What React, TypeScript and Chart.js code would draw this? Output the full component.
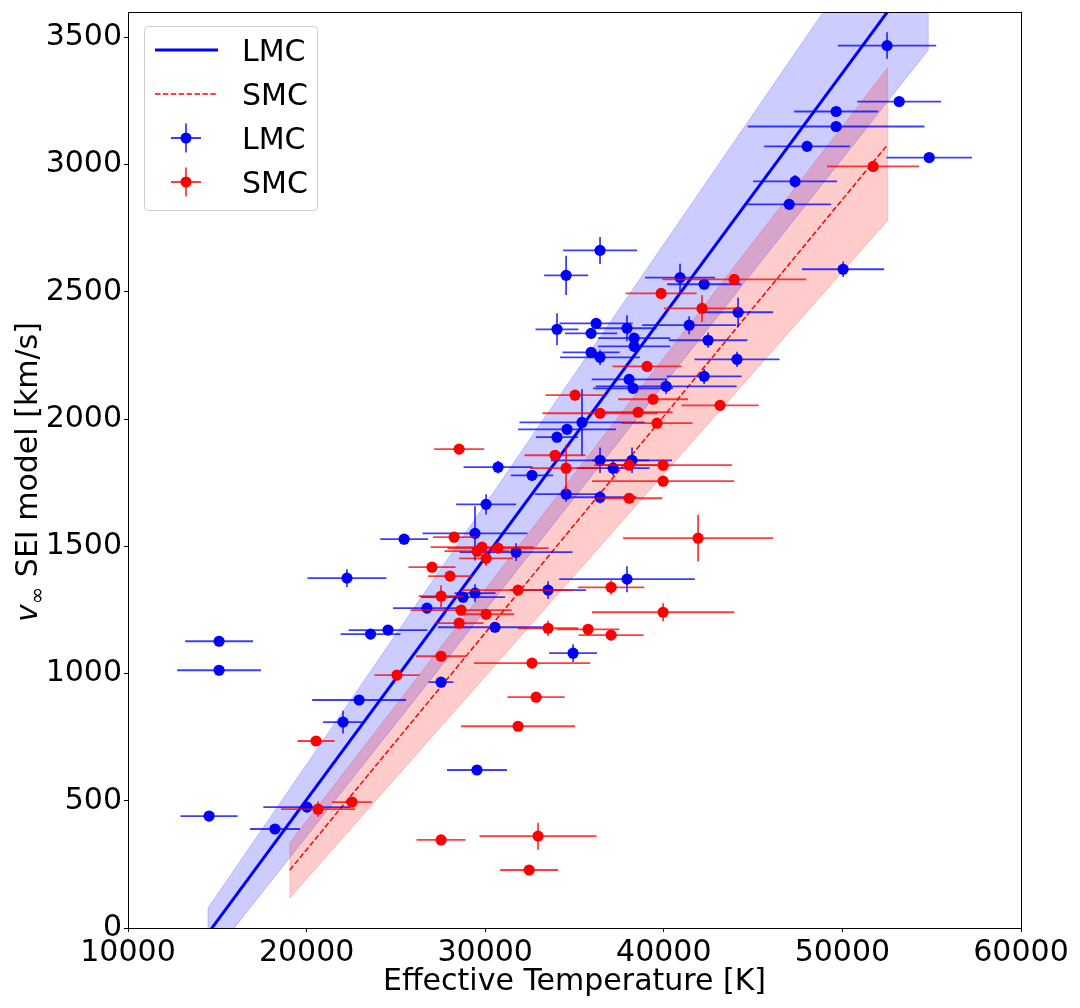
import React, { useEffect, useRef } from "react";
import { Chart, registerables } from "chart.js";

Chart.register(...registerables);

// LMC stars: effective temperature [K], v_inf [km/s] and their errors
const lmcTeff = [
  52500, 53180, 49650, 49650, 48020, 54860, 47350, 47020, 50040, 36430,
  34530, 40910, 42260, 44160, 34020, 36210, 35930, 37940, 38340, 38340,
  41420, 42480, 36430, 35930, 44100, 42260, 38060, 40130, 38280, 35420,
  34580, 34020, 30720, 32620, 36430, 37160, 38220, 34530, 36430, 30050,
  29430, 31730, 25460, 22260, 29430, 28760, 26740, 33520, 24560, 23580,
  30550, 34920, 27530, 22940, 22040, 37940, 29540, 15100, 15100, 14540,
  18230, 20020,
];
const lmcVinf = [
  3468, 3248, 3209, 3150, 3072, 3028, 2934, 2844, 2589, 2663,
  2565, 2556, 2530, 2420, 2353, 2376, 2337, 2357, 2318, 2286,
  2369, 2310, 2243, 2262, 2235, 2168, 2156, 2129, 2121, 1987,
  1960, 1929, 1811, 1779, 1838, 1807, 1838, 1705, 1693, 1665,
  1551, 1477, 1528, 1375, 1316, 1300, 1257, 1328, 1171, 1155,
  1182, 1080, 966, 896, 809, 1371, 621, 1127, 1013, 440,
  389, 475,
];
const lmcTeffErr = [
  2750, 2350, 2350, 4950, 2400, 2400, 2350, 2350, 2300, 2070,
  1230, 1960, 2070, 1960, 1200, 2050, 1460, 1650, 2020, 2020,
  2630, 2200, 2240, 1600, 2380, 2100, 2100, 3950, 2240, 3500,
  2740, 1180, 1930, 1180, 2750, 2040, 2240, 1760, 2040, 1680,
  2940, 3160, 1340, 2210, 1150, 2350, 1900, 2130, 2210, 1680,
  3200, 1340, 700, 2630, 1120, 3800, 1680, 1900, 2350, 1600,
  1400, 2440,
];
const lmcVinfErr = [
  52, 20, 20, 20, 20, 20, 25, 20, 30, 53,
  77, 55, 20, 57, 63, 20, 20, 51, 20, 20,
  35, 30, 30, 20, 30, 30, 20, 30, 20, 130,
  20, 20, 25, 20, 50, 30, 50, 30, 25, 40,
  107, 35, 20, 35, 35, 20, 20, 35, 20, 20,
  20, 35, 20, 20, 45, 51, 20, 20, 20, 20,
  20, 20,
];

// SMC stars
const smcTeff = [
  51720, 43940, 39850, 42140, 39060, 35030, 39400, 43150, 36430, 38560,
  39620, 28540, 33910, 34530, 38060, 39960, 39960, 38060, 41920, 28260,
  29820, 29540, 30720, 30050, 27020, 28030, 31840, 27530, 28650, 30050,
  28540, 33520, 35760, 37050, 37050, 39960, 27530, 32620, 25060, 32850,
  31840, 20530, 20640, 22540, 27530, 32960, 32460,
];
const smcVinf = [
  2993, 2549, 2494, 2435, 2207, 2094, 2078, 2054, 2023, 2027,
  1984, 1882, 1858, 1807, 1819, 1819, 1756, 1689, 1532, 1536,
  1497, 1481, 1493, 1453, 1418, 1383, 1328, 1304, 1249, 1233,
  1198, 1178, 1174, 1151, 1339, 1241, 1068, 1041, 994, 907,
  793, 735, 467, 495, 346, 361, 228,
];
const smcTeffErr = [
  2580, 4030, 1990, 2130, 1930, 1650, 1960, 2160, 3220, 1930,
  1990, 1400, 1710, 2020, 1570, 3860, 3980, 1850, 4200, 1180,
  2880, 1820, 2830, 1510, 1320, 1230, 3130, 1260, 2830, 1570,
  1370, 1680, 1760, 1820, 1850, 3980, 1400, 3250, 1260, 1600,
  3190, 1040, 2070, 1120, 1370, 3280, 1620,
];
const smcVinfErr = [
  20, 20, 20, 53, 20, 20, 20, 20, 20, 20,
  20, 20, 20, 92, 20, 20, 20, 20, 92, 20,
  20, 20, 20, 30, 20, 20, 20, 43, 20, 20,
  20, 30, 20, 20, 28, 35, 20, 20, 20, 20,
  20, 20, 30, 20, 20, 53, 20,
];

// fitted relations and their uncertainty bands (end points)
const lmcFitTeff = [14480, 54810];
const lmcFitVinf = [-21, 3818];
const lmcFitUpper = [79, 4201];
const lmcFitLower = [-130, 3451];

const smcFitTeff = [19060, 52535];
const smcFitVinf = [228, 3079];
const smcFitUpper = [335, 3381];
const smcFitLower = [118, 2781];

const xTicks = [10000, 20000, 30000, 40000, 50000, 60000];
const yTicks = [0, 500, 1000, 1500, 2000, 2500, 3000, 3500];

const FONT = "DejaVu Sans";

const pts = (xs: number[], ys: number[]) => xs.map((x, i) => ({ x, y: ys[i] }));

const errorBars = {
  id: "errorBars",
  beforeDatasetDraw(chart: any, args: any) {
    const ds = chart.data.datasets[args.index];
    if (!ds.errX) return;
    const { ctx, chartArea } = chart;
    const xs = chart.scales.x;
    const ys = chart.scales.y;
    ctx.save();
    ctx.beginPath();
    ctx.rect(chartArea.left, chartArea.top, chartArea.right - chartArea.left, chartArea.bottom - chartArea.top);
    ctx.clip();
    ctx.strokeStyle = ds.errColor;
    ctx.lineWidth = 1.8;
    ds.data.forEach((p: any, i: number) => {
      const px = xs.getPixelForValue(p.x);
      const py = ys.getPixelForValue(p.y);
      ctx.beginPath();
      ctx.moveTo(xs.getPixelForValue(p.x - ds.errX[i]), py);
      ctx.lineTo(xs.getPixelForValue(p.x + ds.errX[i]), py);
      ctx.moveTo(px, ys.getPixelForValue(p.y - ds.errY[i]));
      ctx.lineTo(px, ys.getPixelForValue(p.y + ds.errY[i]));
      ctx.stroke();
    });
    ctx.restore();
  },
};

const decorations = {
  id: "decorations",
  afterDraw(chart: any) {
    const { ctx, chartArea } = chart;
    ctx.save();
    // frame
    ctx.strokeStyle = "#000";
    ctx.lineWidth = 1;
    ctx.strokeRect(chartArea.left + 0.5, chartArea.top + 0.5, chartArea.right - chartArea.left, chartArea.bottom - chartArea.top);

    // x title
    ctx.fillStyle = "#000";
    ctx.font = `30px "${FONT}"`;
    ctx.textAlign = "center";
    ctx.textBaseline = "alphabetic";
    ctx.fillText("Effective Temperature [K]", (chartArea.left + chartArea.right) / 2, 990);

    // y title: v_inf SEI model [km/s]
    ctx.save();
    ctx.translate(37, (chartArea.top + chartArea.bottom) / 2 + 2);
    ctx.rotate(-Math.PI / 2);
    ctx.textAlign = "left";
    const rest = " SEI model [km/s]";
    ctx.font = `italic 30px "${FONT}"`;
    const wv = ctx.measureText("v").width;
    ctx.font = `21px "${FONT}"`;
    const wi = ctx.measureText("∞").width;
    ctx.font = `30px "${FONT}"`;
    const wr = ctx.measureText(rest).width;
    let x = -(wv + wi + wr) / 2;
    ctx.font = `italic 30px "${FONT}"`;
    ctx.fillText("v", x, 0);
    x += wv;
    ctx.font = `21px "${FONT}"`;
    ctx.fillText("∞", x, 7);
    x += wi;
    ctx.font = `30px "${FONT}"`;
    ctx.fillText(rest, x, 0);
    ctx.restore();

    // legend
    ctx.beginPath();
    ctx.roundRect(144.5, 26.5, 173, 184, 4);
    ctx.fillStyle = "rgba(255,255,255,0.8)";
    ctx.fill();
    ctx.strokeStyle = "#cccccc";
    ctx.lineWidth = 1;
    ctx.stroke();

    const rows = [50, 94, 138, 182];
    ctx.lineCap = "butt";
    ctx.beginPath();
    ctx.strokeStyle = "#0000ff";
    ctx.lineWidth = 3;
    ctx.moveTo(155, rows[0]);
    ctx.lineTo(218, rows[0]);
    ctx.stroke();

    ctx.beginPath();
    ctx.strokeStyle = "#ff0000";
    ctx.lineWidth = 1.5;
    ctx.setLineDash([5.5, 2.4]);
    ctx.moveTo(155, rows[1]);
    ctx.lineTo(218, rows[1]);
    ctx.stroke();
    ctx.setLineDash([]);

    const marker = (y: number, bar: string, fill: string) => {
      ctx.beginPath();
      ctx.strokeStyle = bar;
      ctx.lineWidth = 1.8;
      ctx.moveTo(171, y);
      ctx.lineTo(201, y);
      ctx.moveTo(186, y - 14.5);
      ctx.lineTo(186, y + 14.5);
      ctx.stroke();
      ctx.beginPath();
      ctx.fillStyle = fill;
      ctx.arc(186, y, 5.5, 0, Math.PI * 2);
      ctx.fill();
    };
    marker(rows[2], "rgba(0,0,255,0.76)", "#0000ff");
    marker(rows[3], "rgba(255,0,0,0.76)", "#ff0000");

    ctx.fillStyle = "#000";
    ctx.font = `30px "${FONT}"`;
    ctx.textAlign = "left";
    ctx.textBaseline = "alphabetic";
    ["LMC", "SMC", "LMC", "SMC"].forEach((t, i) => ctx.fillText(t, 242, rows[i] + 11));
    ctx.restore();
  },
};

const App: React.FC = () => {
  const canvasRef = useRef<HTMLCanvasElement>(null);
  const chartRef = useRef<Chart | null>(null);

  useEffect(() => {
    if (!canvasRef.current) return;
    if (chartRef.current) chartRef.current.destroy();

    const lineDs = (data: any[], color: string, width: number, order: number, extra: any = {}) => ({
      type: "line" as const,
      data,
      borderColor: color,
      borderWidth: width,
      pointRadius: 0,
      showLine: true,
      tension: 0,
      fill: false,
      order,
      ...extra,
    });

    const datasets: any[] = [
      // 0 SMC points
      {
        type: "scatter",
        data: pts(smcTeff, smcVinf),
        errX: smcTeffErr,
        errY: smcVinfErr,
        errColor: "rgba(255,0,0,0.76)",
        pointRadius: 5.6,
        pointBorderWidth: 0,
        pointBackgroundColor: "#ff0000",
        borderColor: "#ff0000",
        order: 0,
      },
      // 1 LMC points
      {
        type: "scatter",
        data: pts(lmcTeff, lmcVinf),
        errX: lmcTeffErr,
        errY: lmcVinfErr,
        errColor: "rgba(0,0,255,0.76)",
        pointRadius: 5.6,
        pointBorderWidth: 0,
        pointBackgroundColor: "#0000ff",
        borderColor: "#0000ff",
        order: 1,
      },
      // 2 SMC fit, 3 LMC fit
      lineDs(pts(smcFitTeff, smcFitVinf), "#ff0000", 1.5, 2, { borderDash: [5.5, 2.4] }),
      lineDs(pts(lmcFitTeff, lmcFitVinf), "#0000ff", 3, 3),
      // 4/5 SMC band
      lineDs(pts(smcFitTeff, smcFitUpper), "rgba(255,0,0,0.2)", 1, 4, {
        fill: { target: 5 },
        backgroundColor: "rgba(255,0,0,0.2)",
      }),
      lineDs(pts(smcFitTeff, smcFitLower), "rgba(255,0,0,0.2)", 1, 4),
      lineDs(pts([smcFitTeff[0], smcFitTeff[0]], [smcFitLower[0], smcFitUpper[0]]), "rgba(255,0,0,0.2)", 1, 4),
      lineDs(pts([smcFitTeff[1], smcFitTeff[1]], [smcFitLower[1], smcFitUpper[1]]), "rgba(255,0,0,0.2)", 1, 4),
      // 8/9 LMC band
      lineDs(pts(lmcFitTeff, lmcFitUpper), "rgba(0,0,255,0.2)", 1, 5, {
        fill: { target: 9 },
        backgroundColor: "rgba(0,0,255,0.2)",
      }),
      lineDs(pts(lmcFitTeff, lmcFitLower), "rgba(0,0,255,0.2)", 1, 5),
      lineDs(pts([lmcFitTeff[0], lmcFitTeff[0]], [lmcFitLower[0], lmcFitUpper[0]]), "rgba(0,0,255,0.2)", 1, 5),
      lineDs(pts([lmcFitTeff[1], lmcFitTeff[1]], [lmcFitLower[1], lmcFitUpper[1]]), "rgba(0,0,255,0.2)", 1, 5),
    ];

    const zeroPad = (scale: any) => {
      scale.paddingTop = 0;
      scale.paddingBottom = 0;
      scale.paddingLeft = 0;
      scale.paddingRight = 0;
    };

    chartRef.current = new Chart(canvasRef.current, {
      type: "scatter",
      data: { datasets },
      options: {
        animation: false,
        responsive: true,
        maintainAspectRatio: false,
        events: [],
        layout: { padding: { top: 12, right: 59, left: 0, bottom: 0 } },
        plugins: {
          legend: { display: false },
          tooltip: { enabled: false },
        },
        scales: {
          x: {
            type: "linear",
            min: 10000,
            max: 60000,
            afterBuildTicks: (scale: any) => {
              scale.ticks = xTicks.map((v) => ({ value: v }));
            },
            afterFit: (scale: any) => {
              scale.height = 80;
              zeroPad(scale);
            },
            ticks: {
              color: "#000",
              font: { family: FONT, size: 30 },
              padding: 3,
              maxRotation: 0,
              autoSkip: false,
              callback: (v: any) => String(v),
            },
            grid: { drawOnChartArea: false, drawTicks: true, tickLength: 4, tickColor: "#000", tickWidth: 1 },
            border: { display: false },
          },
          y: {
            type: "linear",
            min: 0,
            max: 3600,
            afterBuildTicks: (scale: any) => {
              scale.ticks = yTicks.map((v) => ({ value: v }));
            },
            afterFit: (scale: any) => {
              scale.width = 128;
              zeroPad(scale);
            },
            ticks: {
              color: "#000",
              font: { family: FONT, size: 30 },
              padding: 2,
              autoSkip: false,
              callback: (v: any) => String(v),
            },
            grid: { drawOnChartArea: false, drawTicks: true, tickLength: 4, tickColor: "#000", tickWidth: 1 },
            border: { display: false },
          },
        },
      } as any,
      plugins: [errorBars, decorations],
    });

    return () => {
      if (chartRef.current) {
        chartRef.current.destroy();
        chartRef.current = null;
      }
    };
  }, []);

  return (
    <div style={{ position: "fixed", left: 0, top: 0, width: 1080, height: 1008, background: "#fff" }}>
      <canvas ref={canvasRef} />
    </div>
  );
};

export default App;
